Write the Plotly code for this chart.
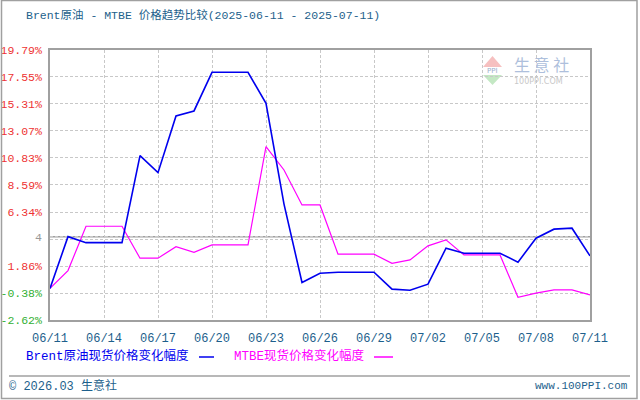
import plotly.graph_objects as go

dates = ["2025-06-11", "2025-06-12", "2025-06-13", "2025-06-14", "2025-06-15", "2025-06-16",
         "2025-06-17", "2025-06-18", "2025-06-19", "2025-06-20", "2025-06-21", "2025-06-22",
         "2025-06-23", "2025-06-24", "2025-06-25", "2025-06-26", "2025-06-27", "2025-06-28",
         "2025-06-29", "2025-06-30", "2025-07-01", "2025-07-02", "2025-07-03", "2025-07-04",
         "2025-07-05", "2025-07-06", "2025-07-07", "2025-07-08", "2025-07-09", "2025-07-10",
         "2025-07-11"]
brent = [0, 4.30, 3.80, 3.80, 3.80, 11.02, 9.61, 14.31, 14.73, 17.94, 17.94, 17.94, 15.37, 7.0,
         0.49, 1.26, 1.34, 1.34, 1.34, -0.06, -0.15, 0.35, 3.34, 2.92, 2.92, 2.92, 2.18, 4.17,
         4.92, 5.00, 2.70]
mtbe = [0, 1.48, 5.16, 5.16, 5.16, 2.51, 2.51, 3.47, 3.00, 3.61, 3.61, 3.61, 11.77, 9.83, 6.93,
        6.93, 2.84, 2.84, 2.84, 2.09, 2.37, 3.53, 4.03, 2.78, 2.78, 2.78, -0.73, -0.39, -0.12,
        -0.12, -0.54]
xtick_vals = ["2025-06-11", "2025-06-14", "2025-06-17", "2025-06-20", "2025-06-23", "2025-06-26",
              "2025-06-29", "2025-07-02", "2025-07-05", "2025-07-08", "2025-07-11"]
ytick_vals = [19.79, 17.55, 15.31, 13.07, 10.83, 8.59, 6.34, 4.30, 4.10, 1.86, -0.38, -2.62]
ytick_labels = ["19.79%", "17.55%", "15.31%", "13.07%", "10.83%", "8.59%", "6.34%", "4", "",
                "1.86%", "-0.38%", "-2.62%"]

title_text = "Brent原油 - MTBE 价格趋势比较(2025-06-11 - 2025-07-11)"
name_brent = "Brent原油现货价格变化幅度"
name_mtbe = "MTBE现货价格变化幅度"

FONT = "Liberation Mono, 'Noto Sans CJK SC', monospace"
TEAL = "#1d5f8c"
RED = "#ee3333"
GREEN = "#33b033"

L, R, T, B = 50, 590, 50, 320


def px(x):
    return (x - L) / (R - L)


def py(y):
    return (B - y) / (B - T)


def color_for(label):
    if label == "4":
        return "#999999"
    if label.startswith("-"):
        return GREEN
    return RED


ticktext = [f'<span style="color:{color_for(t)}">{t}</span>' if t else "" for t in ytick_labels]

fig = go.Figure()
fig.add_trace(go.Scatter(x=dates, y=mtbe, mode="lines", line=dict(color="#ff00ff", width=1.2),
                         name=name_mtbe, showlegend=False))
fig.add_trace(go.Scatter(x=dates, y=brent, mode="lines", line=dict(color="#0000ee", width=1.6),
                         name=name_brent, showlegend=False))

fig.update_layout(
    width=640, height=400,
    margin=dict(l=L, r=640 - R, t=T, b=400 - B, autoexpand=False),
    paper_bgcolor="white", plot_bgcolor="white",
    font=dict(family=FONT, size=12, color=TEAL),
)
fig.update_xaxes(
    type="date", range=["2025-06-11", "2025-07-11"],
    tickvals=xtick_vals, tickformat="%m/%d",
    showgrid=True, gridcolor="#c8c8c8", griddash="3px,2px", gridwidth=1,
    showline=True, linecolor="#a0a0a0", linewidth=1.5, mirror=True,
    ticks="outside", ticklen=6, tickcolor="rgba(0,0,0,0)",
    tickfont=dict(family=FONT, size=12, color=TEAL),
    zeroline=False, fixedrange=True, automargin=False,
)
fig.update_yaxes(
    range=[-2.62, 19.79],
    tickvals=ytick_vals, ticktext=ticktext,
    showgrid=True, gridcolor="#c8c8c8", griddash="3px,2px", gridwidth=1,
    showline=True, linecolor="#a0a0a0", linewidth=1.5, mirror=True,
    ticks="outside", ticklen=4, tickcolor="rgba(0,0,0,0)",
    tickfont=dict(family=FONT, size=11.5, color=RED),
    zeroline=False, fixedrange=True, automargin=False,
)

shapes = []
shapes.append(dict(type="line", xref="paper", yref="y", x0=0, x1=1, y0=4.30, y1=4.30,
                   line=dict(color="#a0a0a0", width=1.5), layer="below"))
shapes.append(dict(type="rect", xref="paper", yref="paper", x0=px(1.5), x1=px(637), y0=py(398.5),
                   y1=py(0.5), line=dict(color="#a0a0a0", width=1.5)))
shapes.append(dict(type="line", xref="paper", yref="paper", x0=px(9), x1=px(630), y0=py(376),
                   y1=py(376), line=dict(color="#a0a0a0", width=1.5)))
shapes.append(dict(type="line", xref="paper", yref="paper", x0=px(199), x1=px(214), y0=py(357),
                   y1=py(357), line=dict(color="#0000ee", width=1.5)))
shapes.append(dict(type="line", xref="paper", yref="paper", x0=px(374), x1=px(393), y0=py(357),
                   y1=py(357), line=dict(color="#ff00ff", width=1.5)))
shapes.append(dict(type="path", xref="paper", yref="paper",
                   path=f"M {px(483)} {py(67)} L {px(492.5)} {py(56)} L {px(502)} {py(67)} Z",
                   fillcolor="#f6c0c0", line=dict(width=0), layer="below"))
shapes.append(dict(type="path", xref="paper", yref="paper",
                   path=f"M {px(483)} {py(75)} L {px(502)} {py(75)} L {px(492.5)} {py(85)} Z",
                   fillcolor="#c4e8c4", line=dict(width=0), layer="below"))
fig.update_layout(shapes=shapes)

ann = []
ann.append(dict(text=title_text, xref="paper", yref="paper", x=px(24), y=py(15), xanchor="left",
                yanchor="middle", showarrow=False, font=dict(family=FONT, size=11.5, color=TEAL)))
ann.append(dict(text=name_brent, xref="paper", yref="paper", x=px(24), y=py(356), xanchor="left",
                yanchor="middle", showarrow=False, font=dict(family=FONT, size=12.5, color="#0000ee")))
ann.append(dict(text=name_mtbe, xref="paper", yref="paper", x=px(232), y=py(356), xanchor="left",
                yanchor="middle", showarrow=False, font=dict(family=FONT, size=12.5, color="#ff00ff")))
ann.append(dict(text="© 2026.03 生意社", xref="paper", yref="paper", x=px(7), y=py(386),
                xanchor="left", yanchor="middle", showarrow=False,
                font=dict(family=FONT, size=12, color=TEAL)))
ann.append(dict(text="www.100PPI.com", xref="paper", yref="paper", x=px(630), y=py(386),
                xanchor="right", yanchor="middle", showarrow=False,
                font=dict(family=FONT, size=11, color=TEAL)))
ann.append(dict(text="PPI", xref="paper", yref="paper", x=px(492.5), y=py(71), xanchor="center",
                yanchor="middle", showarrow=False,
                font=dict(family="DejaVu Sans", size=7, color="#9aaecb")))
ann.append(dict(text="生 意 社", xref="paper", yref="paper", x=px(541), y=py(64), xanchor="center",
                yanchor="middle", showarrow=False,
                font=dict(family="'Noto Sans CJK SC'", size=16, color="#aebfdc")))
ann.append(dict(text="100PPI.COM", xref="paper", yref="paper", x=px(538), y=py(82), xanchor="center",
                yanchor="middle", showarrow=False,
                font=dict(family="DejaVu Sans", size=8, color="#c8c8c8")))
fig.update_layout(annotations=ann)

fig.write_html("out.html", config={"displayModeBar": False},
               post_script="document.body.style.margin='0px';")
